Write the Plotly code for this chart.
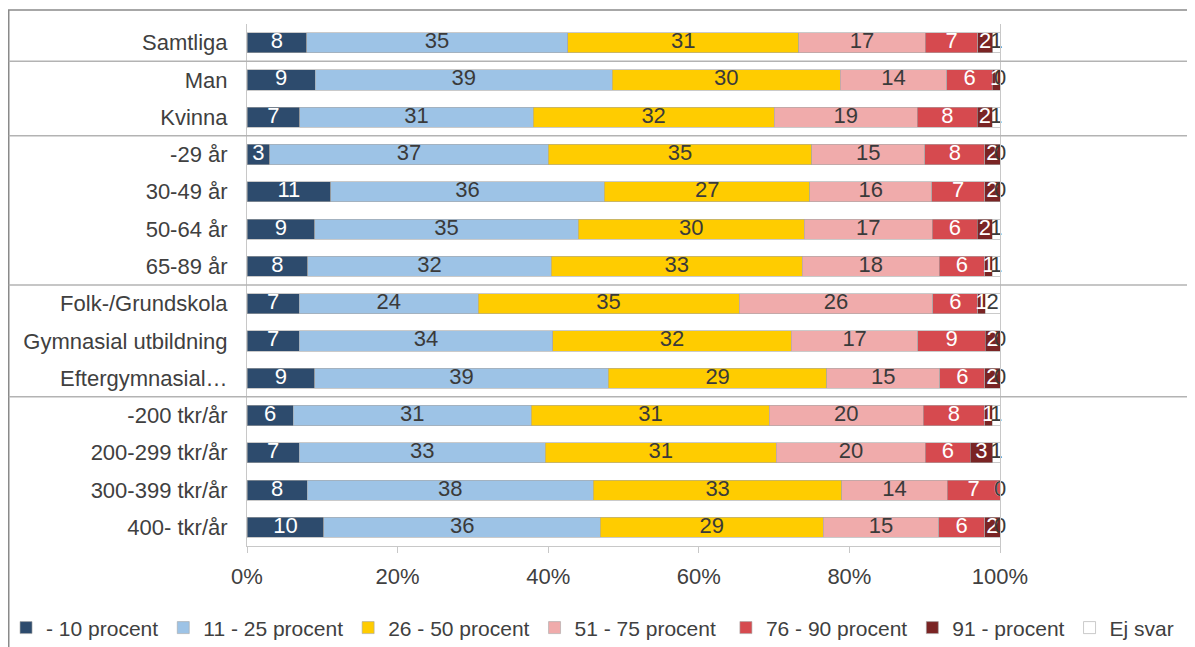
import plotly.graph_objects as go

categories = ["Samtliga", "Man", "Kvinna", "-29 år", "30-49 år", "50-64 år", "65-89 år",
              "Folk-/Grundskola", "Gymnasial utbildning", "Eftergymnasial…",
              "-200 tkr/år", "200-299 tkr/år", "300-399 tkr/år", "400- tkr/år"]
series_names = ["- 10 procent", "11 - 25 procent", "26 - 50 procent", "51 - 75 procent",
                "76 - 90 procent", "91 - procent", "Ej svar"]

v_upto10 = [8, 9, 7, 3, 11, 9, 8, 7, 7, 9, 6, 7, 8, 10]
v_11_25 = [35, 39, 31, 37, 36, 35, 32, 24, 34, 39, 31, 33, 38, 36]
v_26_50 = [31, 30, 32, 35, 27, 30, 33, 35, 32, 29, 31, 31, 33, 29]
v_51_75 = [17, 14, 19, 15, 16, 17, 18, 26, 17, 15, 20, 20, 14, 15]
v_76_90 = [7, 6, 8, 8, 7, 6, 6, 6, 9, 6, 8, 6, 7, 6]
v_91 = [2, 1, 2, 2, 2, 2, 1, 1, 2, 2, 1, 3, 0, 2]
v_ej = [1, 0, 1, 0, 0, 1, 1, 2, 0, 0, 1, 1, 0, 0]

tick_vals = [0, 20, 40, 60, 80, 100]
tick_text = ["0%", "20%", "40%", "60%", "80%", "100%"]

group_breaks = [0.5, 2.5, 6.5, 9.5]  # between category indices

series_values = [v_upto10, v_11_25, v_26_50, v_51_75, v_76_90, v_91, v_ej]
colors = ["#2d4b6d", "#9dc3e6", "#ffcc00", "#f0abab", "#d64a4f", "#7a2424", "#ffffff"]
label_colors = ["#ffffff", "#3a3a3a", "#3a3a3a", "#3a3a3a", "#ffffff", "#ffffff", "#3a3a3a"]
legend_ids = ["legend", "legend", "legend", "legend", "legend2", "legend2", "legend2"]

FONT = "Liberation Sans, Arial, sans-serif"
fig = go.Figure()

for name, vals, col, lg in zip(series_names, series_values, colors, legend_ids):
    fig.add_trace(go.Bar(
        name=name, y=categories, x=vals, orientation="h",
        marker=dict(color=col, line=dict(color="#a6a6a6", width=0.6)),
        hoverinfo="name+x", legend=lg,
    ))

# value labels centred in each segment (normalised to 100 %)
totals = [sum(s[i] for s in series_values) for i in range(len(categories))]
cum = [0] * len(categories)
for vals, tcol in zip(series_values, label_colors):
    xs = []
    for i, v in enumerate(vals):
        xs.append((cum[i] + v / 2) / totals[i] * 100)
        cum[i] += v
    fig.add_trace(go.Scatter(
        x=xs, y=categories, mode="text", text=[str(v) for v in vals],
        textfont=dict(color=tcol, size=22, family=FONT),
        showlegend=False, hoverinfo="skip", cliponaxis=False,
    ))

shapes = [dict(type="rect", xref="paper", yref="paper",
               x0=-0.3164, x1=1.2523, y0=-0.25, y1=1.0268,
               line=dict(color="#8a8a8a", width=1.5), fillcolor="rgba(0,0,0,0)", layer="below")]
for b in group_breaks:
    shapes.append(dict(type="line", xref="paper", yref="y",
                       x0=-0.3164, x1=1.2523, y0=b, y1=b,
                       line=dict(color="#b3b3b3", width=1.5)))

legend_font = dict(size=21, color="#404040", family=FONT)
fig.update_layout(
    width=1187, height=639,
    barmode="stack", barnorm="percent", bargap=0.46,
    margin=dict(l=239, r=195, t=16, b=101, autoexpand=False),
    paper_bgcolor="white", plot_bgcolor="white",
    font=dict(family=FONT, size=21, color="#404040"),
    shapes=shapes,
    xaxis=dict(range=[0, 100], tickvals=tick_vals, ticktext=tick_text,
               showline=True, linecolor="#c8c8c8", linewidth=1,
               ticks="outside", ticklen=6, tickcolor="#c8c8c8",
               ticklabelstandoff=5,
               showgrid=False, zeroline=False,
               tickfont=dict(size=22, color="#404040")),
    yaxis=dict(categoryorder="array", categoryarray=categories,
               range=[13.5, -0.5], showline=True, mirror=True,
               linecolor="#c8c8c8", linewidth=1,
               ticks="outside", ticklen=14, tickcolor="rgba(0,0,0,0)",
               showgrid=False, zeroline=False,
               tickfont=dict(size=22, color="#404040")),
    legend=dict(orientation="h", x=-0.320, xanchor="left", y=-0.157, yanchor="middle",
                font=legend_font, traceorder="normal", bgcolor="rgba(0,0,0,0)"),
    legend2=dict(orientation="h", x=0.636, xanchor="left", y=-0.157, yanchor="middle",
                 font=legend_font, traceorder="normal", bgcolor="rgba(0,0,0,0)"),
    showlegend=True,
)

fig.write_html("out.html")
